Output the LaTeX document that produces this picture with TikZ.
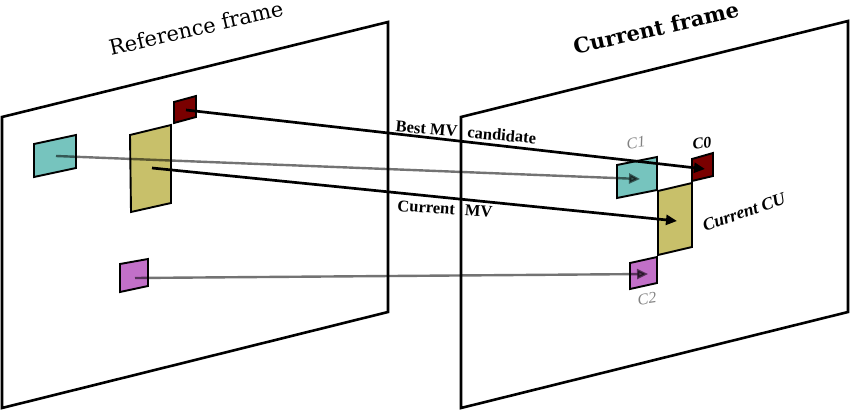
\documentclass[tikz,border=0pt]{standalone}
\usepackage{fontspec}
\setmainfont{DejaVu Serif}
\newfontfamily\lblfont{Liberation Serif}[BoldItalicFont={Liberation Serif Bold Italic},ItalicFont={Liberation Serif Italic},BoldFont={Liberation Serif Bold}]
\usetikzlibrary{arrows.meta}
\definecolor{cyanblk}{RGB}{118,196,190}
\definecolor{yelblk}{RGB}{200,192,106}
\definecolor{redblk}{RGB}{122,0,0}
\definecolor{purblk}{RGB}{194,112,200}
\definecolor{lbl}{RGB}{130,130,130}
\tikzset{
  frameedge/.style={draw=black,line width=2.6pt,line join=miter},
  blk/.style={draw=black,line width=1.9pt,line join=miter},
  mvline/.style={draw=black,line width=2.7pt,-{Triangle[length=11pt,width=10pt]}},
  grayline/.style={draw=black,opacity=0.55,line width=2.4pt,-{Triangle[length=11pt,width=10pt]}},
  title/.style={font=\fontsize{21}{24}\selectfont,rotate=13,inner sep=0pt},
  mvlabel/.style={font=\lblfont\fontsize{16.5}{18}\selectfont\bfseries,inner sep=0pt},
  clabel/.style={font=\lblfont\fontsize{16}{18}\selectfont\itshape,inner sep=0pt}
}
\begin{document}
\begin{tikzpicture}[x=1pt,y=-1pt]
\useasboundingbox (0,0) rectangle (850,411);
% frames
\draw[frameedge] (2,117) -- (388,22) -- (388,312) -- (2,408) -- cycle;
\draw[frameedge] (461,117) -- (848,21) -- (848,312) -- (461,408) -- cycle;
% titles
\node[title] (reftitle) at (196,28) {Reference frame};
\node[title,font=\fontsize{21}{24}\selectfont\bfseries] (curtitle) at (656,28) {Current frame};
% reference frame blocks
\draw[blk,fill=redblk] (174,102) -- (196,96) -- (196,117) -- (174,123) -- cycle;
\draw[blk,fill=cyanblk] (34,144) -- (76,135) -- (76,168) -- (34,177) -- cycle;
\draw[blk,fill=yelblk] (130,135) -- (171,125) -- (171,203) -- (131,212) -- cycle;
\draw[blk,fill=purblk] (120,264) -- (148,259) -- (148,286) -- (120,292) -- cycle;
% current frame blocks
\draw[blk,fill=yelblk] (658,191) -- (692,183) -- (692,247) -- (658,255) -- cycle;
\draw[blk,fill=cyanblk] (617,165) -- (657,157) -- (657,190) -- (617,198) -- cycle;
\draw[blk,fill=redblk] (692,159) -- (713,153) -- (713,176) -- (692,181) -- cycle;
\draw[blk,fill=purblk] (630,263) -- (657,257) -- (657,283) -- (630,289) -- cycle;
% connector endpoints
\coordinate (refred) at (186,110);
\coordinate (refcyan) at (56,156);
\coordinate (refyel) at (152,168);
\coordinate (refpur) at (135,278);
\coordinate (curC0) at (705,169);
\coordinate (curC1) at (640,179);
\coordinate (curCU) at (677,221);
\coordinate (curC2) at (648,274);
% connectors
\draw[grayline] (refcyan) -- (curC1);
\draw[grayline] (refpur) -- (curC2);
\draw[mvline] (refred) -- (curC0);
\draw[mvline] (refyel) -- (curCU);
% labels
\node[mvlabel,rotate=-5] (bestmv) at (466,132) {Best MV\hspace{6pt} candidate};
\node[mvlabel,rotate=-4] (curmv) at (445,209) {Current\hspace{6pt} MV};
\node[clabel,text=lbl,rotate=8] (lc1) at (636,143) {C1};
\node[clabel,font=\lblfont\fontsize{16}{18}\selectfont\bfseries\itshape,rotate=8] (lc0) at (702,143) {C0};
\node[clabel,text=lbl,rotate=8] (lc2) at (647,299) {C2};
\node[clabel,font=\lblfont\fontsize{17.5}{19}\selectfont\bfseries\itshape,rotate=19] (lcu) at (744,212) {Current CU};
\end{tikzpicture}
\end{document}
